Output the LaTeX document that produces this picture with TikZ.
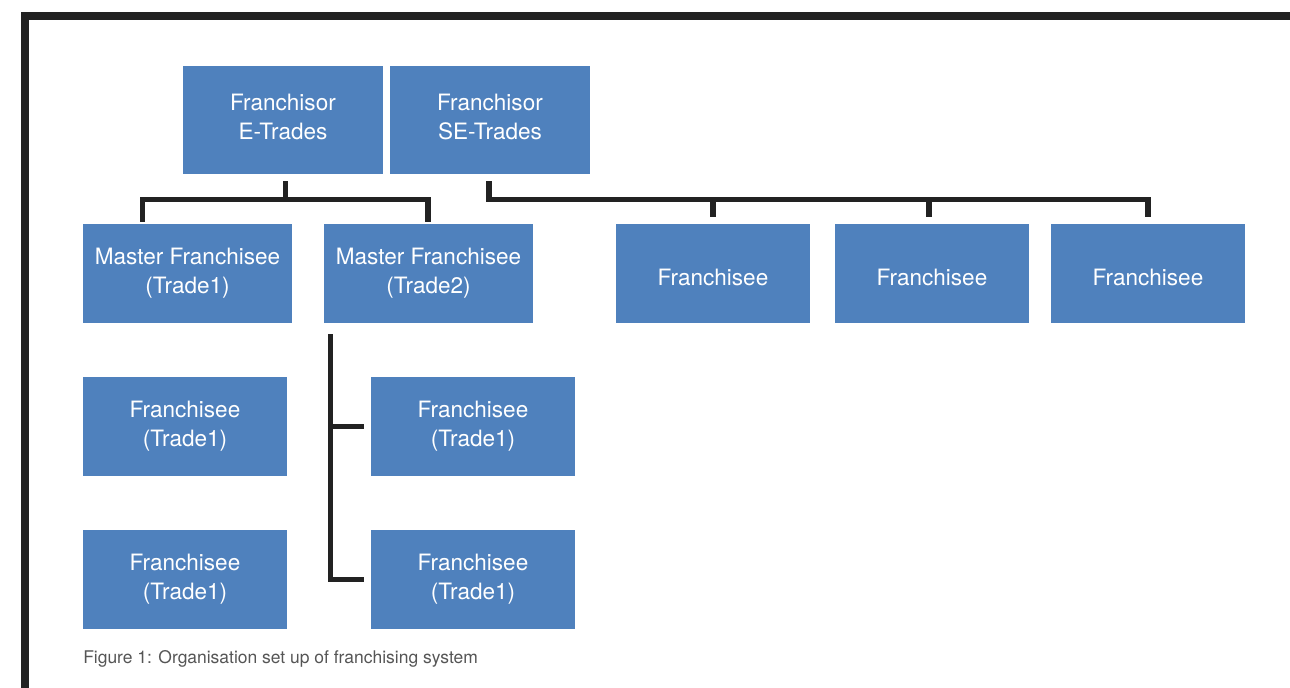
\documentclass[tikz,border=0pt]{standalone}
\usepackage{fontspec}
\setmainfont{TeX Gyre Heros}
\usetikzlibrary{calc}
\definecolor{boxblue}{HTML}{4F81BD}
\definecolor{linedark}{HTML}{222222}
\definecolor{capgray}{HTML}{555555}
\tikzset{
  box/.style={fill=boxblue, draw=none, inner sep=0pt},
  boxtext/.style={text=white, align=center, inner sep=0pt,
    font=\fontsize{16.9pt}{21.75pt}\selectfont},
  bigbox/.style={box, minimum width=150pt, minimum height=81pt,
    label={[boxtext, yshift=2.25pt]center:#1}},
  midbox/.style={box, minimum width=156.75pt, minimum height=74.25pt,
    label={[boxtext]center:#1}},
  franbox/.style={box, minimum width=145.5pt, minimum height=74.25pt,
    label={[boxtext, yshift=-3pt]center:#1}},
  leafbox/.style={box, minimum width=153pt, minimum height=74.25pt,
    label={[boxtext]center:#1}},
  conn/.style={draw=linedark, line width=4.1pt, line join=miter, line cap=butt},
  frame/.style={draw=linedark, line width=6pt, line join=miter}
}
\begin{document}
\begin{tikzpicture}[x=0.75pt, y=-0.75pt]
\useasboundingbox (0,0) rectangle (1290,688);
% frame
\draw[frame] (25,700) -- (25,16) -- (1300,16);
% boxes
\node[bigbox={Franchisor\\E-Trades}] (fe) at (283,120) {};
\node[bigbox={Franchisor\\SE-Trades}] (fse) at (490,120) {};
\node[midbox={Master Franchisee\\(Trade1)}] (m1) at (187.5,273.5) {};
\node[midbox={Master Franchisee\\(Trade2)}] (m2) at (428.5,273.5) {};
\node[franbox={Franchisee}] (f1) at (713,273.5) {};
\node[franbox={Franchisee}] (f2) at (932,273.5) {};
\node[franbox={Franchisee}] (f3) at (1148,273.5) {};
\node[leafbox={Franchisee\\(Trade1)}] (t1) at (185,426.5) {};
\node[leafbox={Franchisee\\(Trade1)}] (t2) at (185,579.5) {};
\node[leafbox={Franchisee\\(Trade1)}] (t3) at (473,426.5) {};
\node[leafbox={Franchisee\\(Trade1)}] (t4) at (473,579.5) {};
% left tree
\coordinate (j1) at ($(fe.south)+(2.5,25.5)$);
\draw[conn] ($(fe.south)+(2.5,7)$) -- (j1);
\draw[conn] ($(m1.north west)+(59.5,-2)$) |- (j1) -| ($(m2.north)+(-0.5,-2)$);
% right tree
\coordinate (j2) at ($(fse.south)+(-1,25.5)$);
\draw[conn] ($(fse.south)+(-1,7)$) -- (j2) -| ($(f3.north)+(0,-7)$);
\draw[conn] ($(f1.north)+(0,-7)$) -- (f1.north |- j2);
\draw[conn] ($(f2.north)+(-3,-7)$) -- ($(f2.north |- j2)+(-3,0)$);
% trade2 branch
\coordinate (v) at ($(m2.south west)+(7,11)$);
\draw[conn] (v) |- ($(t4.west)+(-7,0)$);
\draw[conn] (v |- t3.west) -- ($(t3.west)+(-7,0)$);
% caption
\node[anchor=west, text=capgray, inner sep=0pt, font=\fontsize{13.1pt}{15pt}\selectfont]
  (cap) at (83,658.5) {Figure 1: Organisation set up of franchising system};
\end{tikzpicture}
\end{document}
